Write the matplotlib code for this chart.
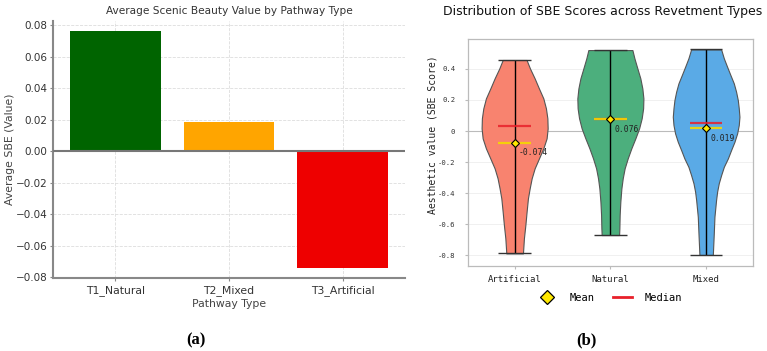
import matplotlib.pyplot as plt
from matplotlib.lines import Line2D
import numpy as np

#### data (a) ####
pathways = ["T1_Natural", "T2_Mixed", "T3_Artificial"]
sbe_avg = [0.0764, 0.0186, -0.0741]
bar_colors = ["#006400", "#FFA500", "#EE0000"]

#### data (b) ####
groups = ["Artificial", "Natural", "Mixed"]
means = [-0.074, 0.076, 0.019]
medians = [0.032, 0.077, 0.053]
mean_txt = ["-0.074", "0.076", "0.019"]
vio_colors = ["#F8836F", "#4CAF7D", "#5AAAE6"]

# violin outlines: y level and half width
art_y = [0.457, 0.403, 0.339, 0.274, 0.210, 0.146, 0.082, 0.017, -0.047, -0.111, -0.176,
         -0.240, -0.304, -0.369, -0.433, -0.519, -0.605, -0.690, -0.787]
art_w = [0.125, 0.160, 0.209, 0.254, 0.300, 0.327, 0.342, 0.345, 0.334, 0.300, 0.254,
         0.209, 0.178, 0.157, 0.139, 0.125, 0.112, 0.097, 0.087]
nat_y = [0.521, 0.468, 0.403, 0.339, 0.274, 0.210, 0.146, 0.082, 0.017, -0.047, -0.111,
         -0.176, -0.240, -0.304, -0.369, -0.455, -0.540, -0.626, -0.669]
nat_w = [0.230, 0.251, 0.282, 0.313, 0.334, 0.345, 0.342, 0.327, 0.300, 0.261, 0.219,
         0.181, 0.149, 0.129, 0.115, 0.104, 0.097, 0.094, 0.091]
mix_y = [0.525, 0.468, 0.414, 0.360, 0.307, 0.253, 0.199, 0.146, 0.092, 0.039, -0.015,
         -0.069, -0.122, -0.176, -0.230, -0.283, -0.336, -0.390, -0.444, -0.551, -0.658, -0.797]
mix_w = [0.157, 0.185, 0.219, 0.254, 0.289, 0.313, 0.331, 0.341, 0.348, 0.341, 0.324,
         0.296, 0.261, 0.227, 0.185, 0.157, 0.132, 0.115, 0.104, 0.087, 0.080, 0.070]
prof_y = [art_y, nat_y, mix_y]
prof_w = [art_w, nat_w, mix_w]

fig = plt.figure(figsize=(7.67, 3.51), dpi=100)

######## (a) bar chart ########
ax1 = fig.add_axes([0.0691, 0.208, 0.4589, 0.732])
xs = np.arange(len(pathways))
ax1.bar(xs, sbe_avg, width=0.8, color=bar_colors, zorder=2)
ax1.axhline(0, color="#777777", lw=1.5, zorder=3)
ax1.set_xlim(-0.55, 2.55)
ax1.set_ylim(-0.0806, 0.0825)
ax1.set_xticks(xs)
ax1.set_xticklabels(pathways)
ax1.set_yticks([-0.08, -0.06, -0.04, -0.02, 0.0, 0.02, 0.04, 0.06, 0.08])
ax1.grid(True, ls="--", lw=0.6, color="#DDDDDD", zorder=0)
for s in ["top", "right"]:
    ax1.spines[s].set_visible(False)
for s in ["left", "bottom"]:
    ax1.spines[s].set_color("#888888")
    ax1.spines[s].set_linewidth(1.5)
ax1.tick_params(axis="y", labelsize=7.5, colors="#333333", length=2, pad=2)
ax1.tick_params(axis="x", labelsize=7.8, colors="#333333", length=2, pad=3)
ax1.tick_params(color="#888888")
ax1.set_title("Average Scenic Beauty Value by Pathway Type", fontsize=7.6, color="#333333", pad=5)
ax1.set_xlabel("Pathway Type", fontsize=7.8, color="#444444", labelpad=2)
fig.text(0.0135, 0.574, "Average SBE (Value)", rotation=90, fontsize=7.8,
         color="#444444", ha="center", va="center")

######## (b) violins ########
mono = "DejaVu Sans Mono"
ax2 = fig.add_axes([0.6098, 0.2413, 0.372, 0.6484])
for i in range(3):
    y = np.array(prof_y[i])
    w = np.array(prof_w[i])
    ax2.fill_betweenx(y, i - w, i + w, facecolor=vio_colors[i], edgecolor="#555555",
                      lw=0.8, zorder=2)
    ax2.vlines(i, y.min(), y.max(), color="black", lw=1.0, zorder=3)
    ax2.hlines([y.min(), y.max()], i - 0.17, i + 0.17, color="#333333", lw=1.0, zorder=3)
    ax2.hlines(medians[i], i - 0.17, i + 0.17, color="#E8202A", lw=1.6, alpha=0.85, zorder=4)
    ax2.hlines(means[i], i - 0.17, i + 0.17, color="#F5D800", lw=1.6, alpha=0.9, zorder=4)
    ax2.plot(i, means[i], marker="D", ms=4.5, mfc="#FFE800", mec="black", mew=0.8, zorder=5)
    ax2.annotate(mean_txt[i], (i, means[i]), xytext=(3, -7.5), textcoords="offset points",
                 fontsize=5.8, family=mono, ha="left", va="center", color="#222222", zorder=6)

ax2.axhline(0, color="#BBBBBB", lw=0.8, zorder=1)
ax2.set_xlim(-0.49, 2.49)
ax2.set_ylim(-0.87, 0.594)
ytk = [-0.8, -0.6, -0.4, -0.2, 0, 0.2, 0.4]
ax2.set_yticks(ytk)
ax2.set_yticklabels(["-0.8", "-0.6", "-0.4", "-0.2", "0", "0.2", "0.4"], family=mono)
ax2.set_xticks(range(3))
ax2.set_xticklabels(groups, family=mono)
ax2.yaxis.grid(True, color="#EEEEEE", lw=0.6, zorder=0)
ax2.set_axisbelow(True)
for s in ax2.spines.values():
    s.set_color("#BBBBBB")
    s.set_linewidth(0.9)
ax2.tick_params(axis="y", labelsize=5.2, length=2, pad=7, color="#BBBBBB", colors="#333333")
ax2.tick_params(axis="x", labelsize=6.5, length=2, pad=4, color="#BBBBBB", colors="#222222")
ax2.tick_params(color="#BBBBBB")
fig.text(0.5645, 0.615, "Aesthetic value (SBE Score)", rotation=90, fontsize=7,
         family=mono, ha="center", va="center", color="#222222")
fig.text(0.786, 0.967, "Distribution of SBE Scores across Revetment Types",
         fontsize=9, ha="center", va="center", color="#111111")

handles = [Line2D([], [], marker="D", ls="none", ms=7, mfc="#FFE800", mec="black", mew=0.9),
           Line2D([], [], color="#E8202A", lw=2)]
fig.legend(handles, ["Mean", "Median"], loc="center", bbox_to_anchor=(0.795, 0.151), ncol=2,
           frameon=False, prop={"family": mono, "size": 7.5}, handlelength=1.8,
           columnspacing=1.8, handletextpad=1.2)

#### panel letters ####
fig.text(0.2555, 0.031, "(a)", fontsize=12, fontweight="bold", family="Liberation Serif",
         ha="center", va="center")
fig.text(0.765, 0.031, "(b)", fontsize=12, fontweight="bold", family="Liberation Serif",
         ha="center", va="center")

fig.savefig("out.png", dpi=100)
